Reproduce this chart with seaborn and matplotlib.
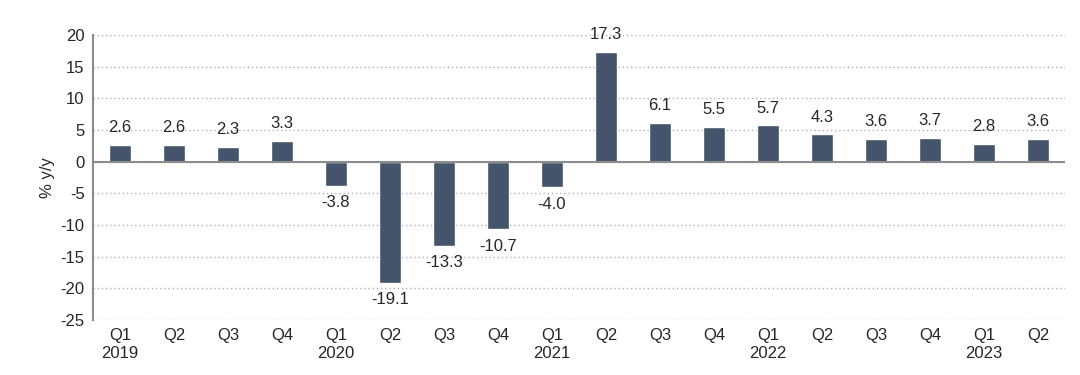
import pandas as pd
import matplotlib.pyplot as plt
import seaborn as sns

# dados trimestrais (% a/a)
trimestres = ["Q1\n2019", "Q2", "Q3", "Q4", "Q1\n2020", "Q2", "Q3", "Q4",
              "Q1\n2021", "Q2", "Q3", "Q4", "Q1\n2022", "Q2", "Q3", "Q4",
              "Q1\n2023", "Q2"]
valores = [2.6, 2.6, 2.3, 3.3, -3.8, -19.1, -13.3, -10.7,
           -4.0, 17.3, 6.1, 5.5, 5.7, 4.3, 3.6, 3.7, 2.8, 3.6]

dados = pd.DataFrame({"pos": range(len(valores)), "valor": valores})

sns.set_style("white")
plt.rcParams["font.family"] = ["Liberation Sans", "DejaVu Sans"]
plt.rcParams["axes.unicode_minus"] = False

fig = plt.figure(figsize=(10.8, 3.75), dpi=100)
ax = fig.add_axes([0.086, 0.147, 0.9, 0.76])

sns.barplot(x="pos", y="valor", data=dados, color="#44546A", saturation=1,
            width=0.42, ax=ax)

# grade pontilhada
ax.set_ylim(-25, 20)
ax.set_yticks(range(-25, 21, 5))
ax.yaxis.grid(True, linestyle=(0, (1, 2)), color="#b0b0b0", linewidth=1)
ax.set_axisbelow(True)
ax.axhline(0, color="#8c8c8c", linewidth=1.5, zorder=3)

for s in ["top", "right", "bottom"]:
    ax.spines[s].set_visible(False)
ax.spines["left"].set_color("#8c8c8c")
ax.spines["left"].set_linewidth(1.5)

# rotulos dos valores
for i, v in enumerate(valores):
    if v >= 0:
        ax.annotate(f"{v:.1f}", (i, v), xytext=(0, 7), textcoords="offset points",
                    ha="center", va="bottom", fontsize=12)
    else:
        ax.annotate(f"{v:.1f}", (i, v), xytext=(0, -7), textcoords="offset points",
                    ha="center", va="top", fontsize=12)

ax.set_xticks(range(len(trimestres)))
ax.set_xticklabels(trimestres, fontsize=12)
ax.tick_params(axis="both", length=0, labelsize=12, pad=6)
ax.set_xlim(-0.5, len(valores) - 0.5)
ax.set_xlabel("")
ax.set_ylabel("% y/y", fontsize=12)

plt.savefig("out.png", dpi=100)
